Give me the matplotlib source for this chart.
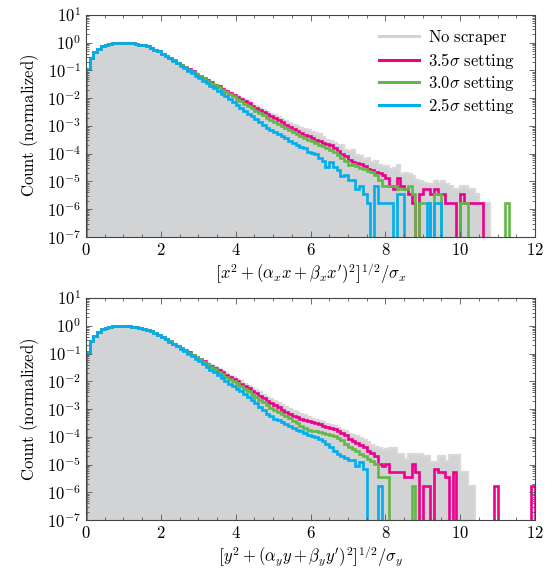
"""Radial amplitude histograms with and without the scraper settings."""

import numpy as np
import matplotlib
matplotlib.use('Agg')
import matplotlib.pyplot as plt
from matplotlib.lines import Line2D
from matplotlib.ticker import FixedLocator, FuncFormatter, LogLocator, MultipleLocator

plt.rcParams['mathtext.fontset'] = 'cm'
plt.rcParams['font.family'] = ['DejaVu Serif']

# bins of width 0.1 from 0 to 12, values are log10(normalized count), None = empty bin
N_BINS = 120
BIN_WIDTH = 0.1

# first 20 bins (0 - 2) are the same for every curve
core = [-0.95, -0.55, -0.35, -0.22, -0.13, -0.07, -0.035, -0.015, -0.005, 0.0,
        -0.002, -0.01, -0.025, -0.045, -0.07, -0.10, -0.14, -0.19, -0.25, -0.32]

# top panel (x plane), bins from 2.0 on
top_none = [-0.40, -0.48, -0.56, -0.64, -0.72, -0.80, -0.88, -0.96, -1.04, -1.11,
            -1.19, -1.26, -1.34, -1.41, -1.49, -1.56, -1.64, -1.71, -1.79, -1.86,
            -1.93, -2.00, -2.07, -2.14, -2.21, -2.28, -2.35, -2.42, -2.49, -2.56,
            -2.62, -2.69, -2.76, -2.83, -2.90, -2.96, -3.00, -3.07, -3.12, -3.15,
            -3.22, -3.25, -3.30, -3.40, -3.50, -3.55, -3.62, -3.70, -3.68, -3.85,
            -3.92, -3.88, -4.05, -4.08, -4.20, -4.15, -4.30, -4.28, -4.40, -4.45,
            -4.45, -4.55, -4.52, -4.41, -4.75, -4.70, -4.72, -4.80, -4.95, -5.00,
            -5.05, -5.10, -5.08, -5.00, -5.05, -4.98, -5.10, -5.15, -5.28, -5.28,
            -5.16, -5.16, -5.28, -5.28, -5.46, -5.76, -5.76, -5.76]
top_35 = [-0.40, -0.48, -0.56, -0.64, -0.72, -0.80, -0.88, -0.96, -1.04, -1.12,
          -1.20, -1.28, -1.36, -1.43, -1.51, -1.58, -1.66, -1.74, -1.81, -1.89,
          -1.97, -2.04, -2.12, -2.19, -2.27, -2.34, -2.42, -2.49, -2.57, -2.64,
          -2.71, -2.79, -2.87, -2.95, -3.03, -3.11, -3.19, -3.27, -3.33, -3.38,
          -3.43, -3.49, -3.56, -3.62, -3.66, -3.70, -3.78, -3.90, -4.00, -4.10,
          -4.22, -4.29, -4.32, -4.38, -4.45, -4.55, -4.60, -4.65, -4.71, -4.77,
          -4.86, -5.16, -5.28, -4.86, -5.16, -5.28, -5.46, -5.76, None, -5.46,
          -5.28, -5.28, -5.46, -5.28, -5.46, -5.46, -5.76, -5.76, -5.76, None,
          -5.46, -5.76, -5.76, -5.76, -5.76, -5.76]
top_30 = [-0.40, -0.48, -0.56, -0.64, -0.72, -0.80, -0.88, -0.97, -1.05, -1.13,
          -1.21, -1.29, -1.37, -1.45, -1.53, -1.61, -1.69, -1.77, -1.85, -1.94,
          -2.03, -2.11, -2.20, -2.28, -2.36, -2.45, -2.53, -2.61, -2.70, -2.78,
          -2.86, -2.93, -3.01, -3.08, -3.16, -3.23, -3.30, -3.37, -3.43, -3.50,
          -3.56, -3.62, -3.68, -3.74, -3.80, -3.86, -3.94, -4.04, -4.14, -4.28,
          -4.40, -4.38, -4.46, -4.50, -4.55, -4.62, -4.66, -4.78, -4.95, -5.16,
          -5.16, -5.16, -5.16, -5.28, -5.28, -5.28, -5.16, -5.46, None, -5.76,
          -5.76, -5.76, None, -5.46, -5.46, None, None, None, None, None,
          -5.76, -5.76, None, None, None, None, None, None, None, None,
          None, None, -5.76]
top_25 = [-0.41, -0.49, -0.57, -0.66, -0.74, -0.83, -0.92, -1.01, -1.10, -1.19,
          -1.28, -1.37, -1.46, -1.56, -1.65, -1.75, -1.84, -1.94, -2.04, -2.13,
          -2.25, -2.35, -2.45, -2.56, -2.66, -2.76, -2.86, -2.96, -3.06, -3.15,
          -3.22, -3.28, -3.36, -3.45, -3.55, -3.60, -3.68, -3.76, -3.80, -3.95,
          -3.98, -4.02, -4.15, -4.28, -4.47, -4.30, -4.47, -4.60, -4.80, -4.78,
          -4.95, -4.95, -5.28, -5.16, -5.46, -5.76, None, -5.16, -5.76, -5.76,
          -5.76, -5.76, None, -5.46, -5.46, None, None, None, None, None,
          None, -5.76, None, -5.76, -5.76]

# bottom panel (y plane), bins from 2.0 on
bot_none = [-0.40, -0.48, -0.56, -0.64, -0.72, -0.80, -0.88, -0.96, -1.04, -1.11,
            -1.19, -1.26, -1.34, -1.41, -1.49, -1.56, -1.64, -1.71, -1.79, -1.86,
            -1.92, -2.00, -2.08, -2.16, -2.24, -2.32, -2.40, -2.48, -2.56, -2.64,
            -2.71, -2.78, -2.85, -2.92, -2.99, -3.05, -3.11, -3.17, -3.22, -3.28,
            -3.34, -3.38, -3.42, -3.46, -3.52, -3.58, -3.62, -3.68, -3.74, -3.80,
            -3.88, -3.94, -3.98, -4.05, -4.12, -4.20, -4.30, -4.36, -4.40, -4.48,
            -4.42, -4.40, -4.40, -4.62, -4.62, -4.80, -4.62, -4.62, -4.62, -4.62,
            -4.70, -4.70, -4.89, -4.89, -4.69, -4.69, -4.86, -4.66, -4.66, -4.66,
            -5.28, -5.28, -5.76, -5.76]
bot_35 = [-0.40, -0.48, -0.56, -0.64, -0.72, -0.80, -0.88, -0.96, -1.04, -1.12,
          -1.20, -1.28, -1.36, -1.44, -1.52, -1.60, -1.68, -1.76, -1.84, -1.92,
          -2.00, -2.08, -2.16, -2.24, -2.33, -2.42, -2.51, -2.60, -2.69, -2.78,
          -2.86, -2.94, -3.02, -3.10, -3.18, -3.24, -3.29, -3.34, -3.38, -3.42,
          -3.46, -3.50, -3.55, -3.60, -3.64, -3.68, -3.73, -3.80, -3.87, -3.94,
          -4.06, -4.14, -4.22, -4.30, -4.38, -4.50, -4.58, -4.70, -4.96, -5.06,
          -4.96, -5.28, -5.28, -5.28, -5.28, -5.46, -5.46, -4.96, -5.28, None,
          -5.76, -5.76, None, -5.16, -5.28, -5.28, -5.46, None, -5.28, None,
          None, None, None, None, None, None, None, None, None, -5.76,
          None, None, None, None, None, None, None, None, None, -5.76]
bot_30 = [-0.40, -0.48, -0.56, -0.64, -0.72, -0.80, -0.88, -0.97, -1.05, -1.13,
          -1.21, -1.30, -1.39, -1.48, -1.57, -1.66, -1.75, -1.84, -1.93, -2.00,
          -2.06, -2.16, -2.26, -2.36, -2.46, -2.56, -2.66, -2.76, -2.86, -2.96,
          -3.02, -3.09, -3.17, -3.25, -3.33, -3.41, -3.50, -3.59, -3.67, -3.74,
          -3.78, -3.80, -3.82, -3.85, -3.88, -3.92, -3.98, -4.04, -4.12, -4.24,
          -4.36, -4.44, -4.52, -4.60, -4.68, -4.80, -4.86, -4.96, -5.46, -5.46,
          -5.46, None, None, None, None, None, None, -5.76]
bot_25 = [-0.41, -0.49, -0.57, -0.66, -0.74, -0.83, -0.92, -1.01, -1.10, -1.19,
          -1.28, -1.38, -1.48, -1.58, -1.68, -1.78, -1.88, -1.98, -2.08, -2.18,
          -2.27, -2.35, -2.44, -2.55, -2.66, -2.78, -2.91, -3.04, -3.16, -3.26,
          -3.34, -3.40, -3.48, -3.55, -3.62, -3.68, -3.74, -3.80, -3.86, -3.92,
          -3.98, -4.02, -4.08, -4.16, -4.26, -4.38, -4.50, -4.62, -4.68, -4.76,
          -4.84, -4.84, -5.06, -4.91, -5.16, None, None, None, -5.76]

labels = ['No scraper', r'3.5\sigma', r'3.0\sigma', r'2.5\sigma']
colors = ['#d2d3d5', '#ec008c', '#62b846', '#00aeef']
xlabels = [r"$\left[x^2 + (\alpha_x x + \beta_x x')^2\right]^{1/2}/\sigma_x$",
           r"$\left[y^2 + (\alpha_y y + \beta_y y')^2\right]^{1/2}/\sigma_y$"]


def to_values(tail):
    """Turn a log10 tail into a full array of normalized counts."""
    logs = np.array(core + tail, dtype=float)
    vals = np.full(N_BINS, np.nan)
    vals[:len(logs)] = 10 ** logs
    return vals


def draw_panel(ax, series, xlabel):
    """Draw the gray reference histogram and the three scraper settings."""
    edges = np.arange(N_BINS + 1) * BIN_WIDTH
    base = 1e-9
    ax.stairs(series[0], edges, baseline=base, fill=True, color=colors[0], lw=0)
    ax.stairs(series[0], edges, baseline=base, color='#d9d9d9', lw=1.6)
    for vals, col in zip(series[1:], colors[1:]):
        ax.stairs(vals, edges, baseline=base, color=col, lw=1.9)

    ax.set_yscale('log')
    ax.set_xlim(0, 12)
    ax.set_ylim(1e-7, 1e1)
    ax.xaxis.set_major_locator(MultipleLocator(2))
    ax.xaxis.set_minor_locator(MultipleLocator(0.5))
    ax.xaxis.set_major_formatter(FuncFormatter(lambda v, p: '$%d$' % round(v)))
    ax.yaxis.set_major_locator(FixedLocator([10.0 ** k for k in range(-7, 2)]))
    ax.yaxis.set_minor_locator(LogLocator(base=10, subs=np.arange(2, 10), numticks=30))
    ax.yaxis.set_major_formatter(FuncFormatter(lambda v, p: '$10^{%d}$' % round(np.log10(v))))
    ax.tick_params(which='both', direction='in', top=True, right=True,
                   color='#555555', labelsize=12, width=0.6)
    ax.tick_params(which='major', length=4)
    ax.tick_params(which='minor', length=2)
    for sp in ax.spines.values():
        sp.set_color('#444444')
        sp.set_linewidth(0.8)
    ax.set_xlabel(xlabel, fontsize=12, labelpad=2)
    ax.set_ylabel(r'$\mathrm{Count\ (normalized)}$', fontsize=12, labelpad=4)


fig = plt.figure(figsize=(5.53, 5.71), dpi=100)
ax_top = fig.add_axes([0.1555, 0.585, 0.812, 0.389])
ax_bot = fig.add_axes([0.1555, 0.089, 0.812, 0.389])

draw_panel(ax_top, [to_values(s) for s in (top_none, top_35, top_30, top_25)], xlabels[0])
draw_panel(ax_bot, [to_values(s) for s in (bot_none, bot_35, bot_30, bot_25)], xlabels[1])

handles = [Line2D([], [], color=c, lw=2.2) for c in colors]
texts = [r'$\mathrm{No\ scraper}$'] + [r'$%s\ \mathrm{setting}$' % s for s in labels[1:]]
ax_top.legend(handles, texts, loc='upper right', bbox_to_anchor=(0.955, 0.94),
              frameon=False, fontsize=12, handlelength=2.4, handletextpad=0.55,
              labelspacing=0.2, borderaxespad=0, borderpad=0)

fig.savefig('out.png', dpi=100)
